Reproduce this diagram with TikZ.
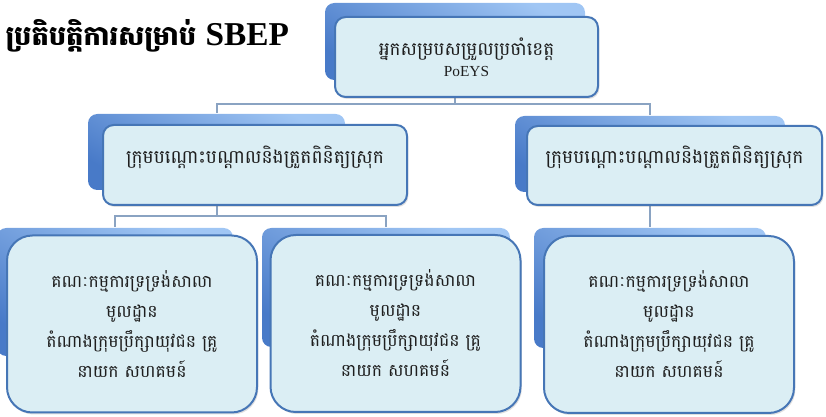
\documentclass[tikz,border=0pt]{standalone}
\usepackage{fontspec}
\setmainfont{Liberation Serif}
\newfontfamily\khmer[Script=Khmer]{Battambang}
\usetikzlibrary{shadows}

\definecolor{boxfill}{RGB}{219,238,244}
\definecolor{boxline}{RGB}{70,118,182}
\definecolor{backlight}{RGB}{160,198,244}
\definecolor{backdark}{RGB}{72,122,200}
\definecolor{linkcol}{RGB}{138,163,194}
\definecolor{txtcol}{RGB}{30,30,30}

\tikzset{every picture/.style={line width=0.75pt}}
\tikzset{
  backbox/.style={rectangle, rounded corners=7pt, top color=backlight, bottom color=backdark,
    shading angle=-30, draw=none, inner sep=0pt},
  frontbox/.style={rectangle, rounded corners=8pt, draw=boxline, fill=boxfill, line width=1.5pt,
    drop shadow={shadow xshift=1pt, shadow yshift=-1.5pt, opacity=0.25},
    inner sep=0pt, align=center, text=txtcol},
  leafbox/.style={frontbox, rounded corners=19pt},
  link/.style={draw=linkcol, line width=1.5pt},
}

\begin{document}
\begin{tikzpicture}[x=0.75pt,y=0.75pt,yscale=-1,xscale=1]
	\useasboundingbox (0,0) rectangle (826,417);

	% Title
	\node [anchor=base west, text=black, inner sep=0pt] (title) at (5,46)
	  {\fontsize{20.5}{26}\selectfont\khmer\bfseries ប្រតិបត្តិការសម្រាប់ \fontsize{25}{28}\selectfont\rmfamily\bfseries SBEP};

	%Shape: back boxes (sizes in px *0.75)
	\node [backbox, minimum width=195pt, minimum height=57.75pt] (rootB) at (455,41.5) {};
	\node [backbox, minimum width=192.75pt, minimum height=57pt] (midlB) at (216.5,152) {};
	\node [backbox, minimum width=202.5pt, minimum height=57pt] (midrB) at (650,154) {};
	\node [backbox, minimum width=177pt, minimum height=96pt] (botlB) at (115,292) {};
	\node [backbox, minimum width=186pt, minimum height=89.25pt] (botmB) at (386,287.5) {};
	\node [backbox, minimum width=174pt, minimum height=90pt] (botrB) at (650,288) {};

	%Straight Lines: links
	\draw [link] (rootB.south) -- ++(0,24) coordinate (rootbus) -| (midlB.north);
	\draw [link] (rootbus) -| (midrB.north);
	\draw [link] (midlB.south) -- ++(0,26) coordinate (midlbus) -| (botlB.north);
	\draw [link] (midlbus) -| (botmB.north);
	\draw [link] (midrB.south) -- (botrB.north);

	%Shape: front boxes
	\node [frontbox, minimum width=197.25pt, minimum height=60pt,
	  font=\fontsize{13.8}{16}\selectfont] (root) at (466.5,57)
	  {{\khmer អ្នកសម្របសម្រួលប្រចាំខេត្ត}\\{\fontsize{11.5}{13}\selectfont PoEYS}};
	\node [frontbox, minimum width=228pt, minimum height=60pt, text depth=16pt,
	  font=\khmer\fontsize{14}{16}\selectfont] (midl) at (255,165)
	  {ក្រុមបណ្តោះបណ្តាលនិងត្រួតពិនិត្យស្រុក};
	\node [frontbox, minimum width=221.25pt, minimum height=59.25pt, text depth=16pt,
	  font=\khmer\fontsize{14}{16}\selectfont] (midr) at (674.5,165.5)
	  {ក្រុមបណ្តោះបណ្តាលនិងត្រួតពិនិត្យស្រុក};

	% leaf boxes
	\foreach \nm/\cx/\cy in {botl/132/324, botm/395.5/323.5, botr/669/324.5} {
	  \node [leafbox, minimum width=187.5pt, minimum height=132.75pt,
	    font=\khmer\fontsize{13}{22.5}\selectfont] (\nm) at (\cx,\cy)
	    {គណៈកម្មការទ្រទ្រង់សាលា\\មូលដ្ឋាន\\តំណាងក្រុមប្រឹក្សាយុវជន គ្រូ\\នាយក សហគមន៍};
	}

\end{tikzpicture}
\end{document}
